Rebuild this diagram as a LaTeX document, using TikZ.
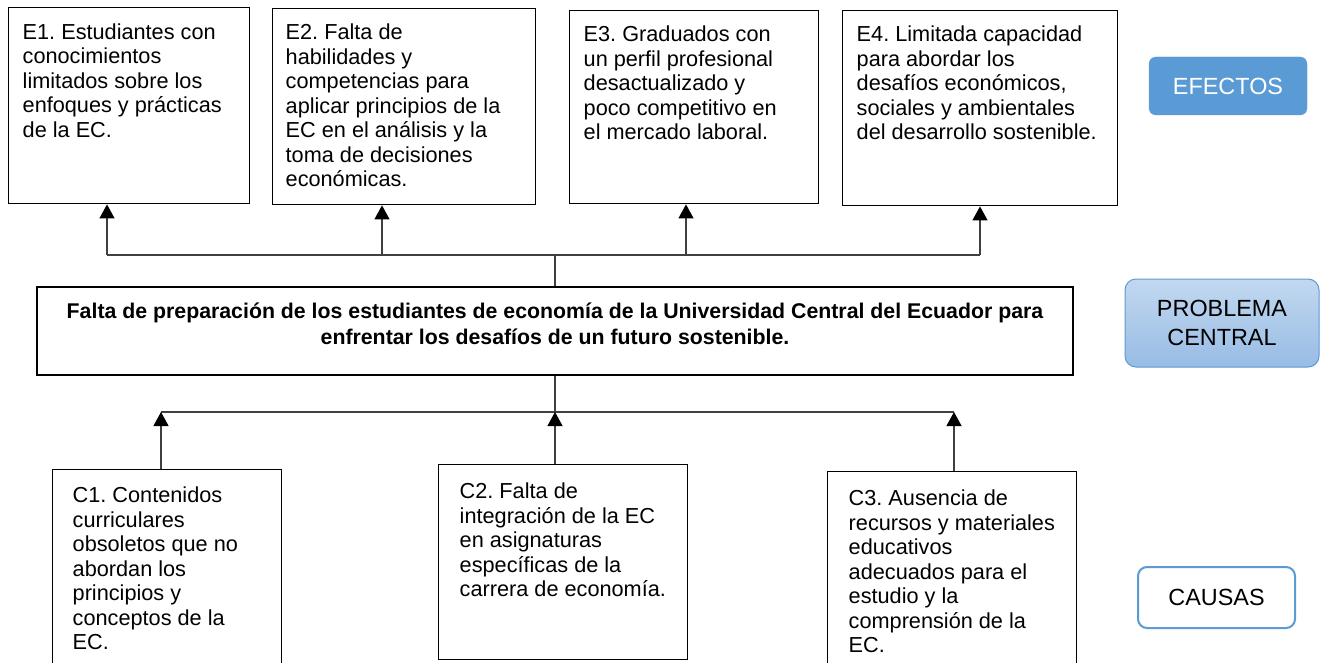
\documentclass[tikz,border=0pt]{standalone}
\usepackage{fontspec}
\setmainfont{Liberation Sans}
\usetikzlibrary{arrows.meta,shadings}
\definecolor{lblue}{HTML}{5B9BD5}
\definecolor{conncol}{HTML}{404040}
\newcommand{\bxt}[3]{\parbox[t][#2][t]{#1}{\frenchspacing\begin{tabular}[t]{@{}l@{}}#3\end{tabular}}}
\begin{document}
\begin{tikzpicture}[x=1pt,y=-1pt,
  cbox/.style={draw=black, line width=1.4pt, anchor=north west, font=\fontsize{21.7}{24.5}\selectfont},
  conn/.style={draw=conncol, line width=1.2pt},
  arr/.style={conn, -{Triangle[width=15pt,length=14pt,color=black]}},
  lbl/.style={minimum width=#1, font=\fontsize{23.4}{29}\selectfont, align=center, inner sep=0pt}
]
\clip (0,0) rectangle (1322,663);
\fill[white] (0,0) rectangle (1322,663);

% Effects
\node[cbox, inner xsep=14pt, inner ysep=14.5pt] (E1) at (8,7)
  {\bxt{213pt}{167pt}{E1. Estudiantes con\\conocimientos\\limitados sobre los\\enfoques y prácticas\\de la EC.}};
\node[cbox, inner xsep=13pt, inner ysep=14pt] (E2) at (272,8)
  {\bxt{237pt}{168pt}{E2. Falta de\\habilidades y\\competencias para\\aplicar principios de la\\EC en el análisis y la\\toma de decisiones\\económicas.}};
\node[cbox, inner xsep=14pt, inner ysep=14pt] (E3) at (569,10)
  {\bxt{221pt}{165pt}{E3. Graduados con\\un perfil profesional\\desactualizado y\\poco competitivo en\\el mercado laboral.}};
\node[cbox, inner xsep=14pt, inner ysep=14pt] (E4) at (842,10)
  {\bxt{247pt}{167pt}{E4. Limitada capacidad\\para abordar los\\desafíos económicos,\\sociales y ambientales\\del desarrollo sostenible.}};

% Central problem
\node[draw=black, line width=2.2pt, anchor=north, inner xsep=8pt, inner ysep=12.8pt,
      font=\fontsize{21.3}{26}\selectfont\bfseries] (P) at (555,286)
  {\parbox[t][62.4pt][t]{1020pt}{\centering\frenchspacing\begin{tabular}[t]{@{}c@{}}Falta de preparación de los estudiantes de economía de la Universidad Central del Ecuador para\\enfrentar los desafíos de un futuro sostenible.\end{tabular}}};

% Causes
\node[cbox, inner xsep=20pt, inner ysep=16pt] (C1) at (52,469)
  {\bxt{189pt}{208pt}{C1. Contenidos\\curriculares\\obsoletos que no\\abordan los\\principios y\\conceptos de la\\EC.}};
\node[cbox, inner xsep=21pt, inner ysep=17pt] (C2) at (438,464)
  {\bxt{207pt}{161pt}{C2. Falta de\\integración de la EC\\en asignaturas\\específicas de la\\carrera de economía.}};
\node[cbox, inner xsep=21pt, inner ysep=17pt] (C3) at (827,471)
  {\bxt{207pt}{206pt}{C3. Ausencia de\\recursos y materiales\\educativos\\adecuados para el\\estudio y la\\comprensión de la\\EC.}};

% Labels
\node[lbl=158pt, minimum height=58pt, rounded corners=7pt, fill=lblue, draw=lblue, text=white] (EF) at (1228,86) {EFECTOS};
\node[lbl=194pt, minimum height=88pt, rounded corners=11pt, top color={rgb,255:red,194;green,216;blue,240}, bottom color={rgb,255:red,152;green,188;blue,228}, draw=lblue, line width=1pt] (PC) at (1222,323) {PROBLEMA\\CENTRAL};
\node[lbl=157pt, minimum height=61pt, rounded corners=9pt, fill=white, draw=lblue, line width=2pt] (CA) at (1216.5,597.5) {CAUSAS};

% Connectors: effects
\coordinate (te1) at (107,255);
\coordinate (te2) at (382,255);
\coordinate (te3) at (686,255);
\coordinate (te4) at (980,255);
\coordinate (tc) at (555,255);
\draw[conn] (te1) -- (te4);
\draw[conn] (P.north) -- (tc);
\draw[arr] (te1) -- (te1 |- E1.south);
\draw[arr] (te2) -- (te2 |- E2.south);
\draw[arr] (te3) -- (te3 |- E3.south);
\draw[arr] (te4) -- (te4 |- E4.south);

% Connectors: causes
\coordinate (bc1) at (161,412);
\coordinate (bc2) at (555,412);
\coordinate (bc3) at (954,412);
\draw[conn] (bc1) -- (bc3);
\draw[conn] (P.south) -- (bc2);
\draw[arr] (bc1 |- C1.north) -- (bc1);
\draw[arr] (bc2 |- C2.north) -- (bc2);
\draw[arr] (bc3 |- C3.north) -- (bc3);
\end{tikzpicture}
\end{document}
